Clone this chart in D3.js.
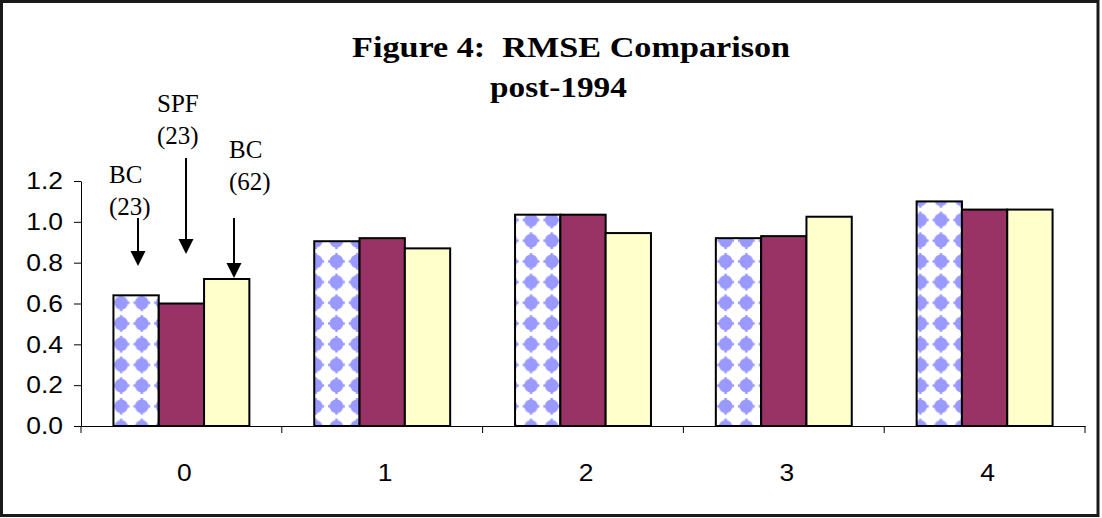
<!DOCTYPE html>
<html>
<head>
<meta charset="utf-8">
<script src="https://cdn.jsdelivr.net/npm/d3@7"></script>
<style>
  body { margin: 0; background: #fff; }
  svg { display: block; }
</style>
</head>
<body>
<div id="chart"></div>
<script>
// horizons (x categories)
var horizons = ["0", "1", "2", "3", "4"];
// series names
var seriesNames = ["BC (23)", "SPF (23)", "BC (62)"];
// RMSE values
var bc23  = [0.64, 0.905, 1.035, 0.92, 1.10];
var spf23 = [0.60, 0.92, 1.035, 0.93, 1.06];
var bc62  = [0.72, 0.87, 0.945, 1.025, 1.06];
var yTicks = [0.0, 0.2, 0.4, 0.6, 0.8, 1.0, 1.2];

var width = 1102, height = 518;
var svg = d3.select("#chart").append("svg")
    .attr("width", width)
    .attr("height", height);

// outer frame
svg.append("rect")
    .attr("x", 1.5).attr("y", 1.5)
    .attr("width", 1096.5).attr("height", 514)
    .attr("fill", "#fff")
    .attr("stroke", "#1a1a1a")
    .attr("stroke-width", 3);

//Define scales
var x0 = d3.scaleBand().domain(horizons).range([81, 1085]);
var x1 = d3.scaleBand().domain(seriesNames).range([0, x0.bandwidth()]).paddingOuter(0.716);
var y = d3.scaleLinear().domain([0, 1.2]).range([426, 181]);

var fills = {"SPF (23)": "#993366", "BC (62)": "#ffffcc"};

var rows = horizons.map(function (h, i) {
    return {h: h, vals: [bc23[i], spf23[i], bc62[i]]};
});

// dotted pattern, one per category so the dots line up with each bar
var defs = svg.append("defs");
var tile = 20.7;
rows.forEach(function (r, i) {
    var left = x0(r.h) + x1(seriesNames[0]);
    var p = defs.append("pattern")
        .attr("id", "dots" + i)
        .attr("patternUnits", "userSpaceOnUse")
        .attr("width", tile).attr("height", tile)
        .attr("x", left + 9.5 - tile / 2)
        .attr("y", y(0) + 1 - tile / 2);
    p.append("rect").attr("width", tile).attr("height", tile).attr("fill", "#fff");
    var c = tile / 2;
    p.append("circle").attr("cx", c).attr("cy", c).attr("r", 6.8).attr("fill", "#9999ff");
    p.append("rect").attr("x", c - 8.4).attr("y", c - 1.2).attr("width", 16.8).attr("height", 2.4).attr("fill", "#9999ff");
    p.append("rect").attr("x", c - 1.2).attr("y", c - 8.4).attr("width", 2.4).attr("height", 16.8).attr("fill", "#9999ff");
});

// bars
var groups = svg.selectAll("g.grp")
    .data(rows)
    .enter()
    .append("g")
    .attr("class", "grp")
    .attr("transform", function (d) { return "translate(" + x0(d.h) + ",0)"; });

groups.selectAll("rect")
    .data(function (d, i) {
        return d.vals.map(function (v, j) { return {s: seriesNames[j], v: v, i: i}; });
    })
    .enter()
    .append("rect")
    .attr("x", function (d) { return x1(d.s); })
    .attr("width", x1.bandwidth())
    .attr("y", function (d) { return y(d.v); })
    .attr("height", function (d) { return y(0) - y(d.v); })
    .attr("fill", function (d) { return d.s === "BC (23)" ? "url(#dots" + d.i + ")" : fills[d.s]; })
    .attr("stroke", "#000")
    .attr("stroke-width", 2);

// y axis
var yAxis = svg.append("g")
    .attr("transform", "translate(81,0)")
    .call(d3.axisLeft(y).tickValues(yTicks).tickSize(7).tickSizeOuter(0).tickPadding(11).tickFormat(d3.format(".1f")));
yAxis.selectAll("text")
    .style("font-family", "'Liberation Sans', Arial, sans-serif")
    .style("font-size", "24px")
    .attr("fill", "#000")
    .attr("x", null)
    .attr("transform", "translate(-18,0) scale(1.1,1)");

// x axis: labels centered, ticks at category boundaries
var xAxis = svg.append("g")
    .attr("transform", "translate(0," + y(0) + ")")
    .call(d3.axisBottom(x0).tickSize(0).tickSizeOuter(0).tickPadding(38));
xAxis.selectAll("text")
    .style("font-family", "'Liberation Sans', Arial, sans-serif")
    .style("font-size", "24px")
    .attr("fill", "#000")
    .attr("transform", "translate(3,0) scale(1.1,1)");
var bounds = horizons.map(function (h) { return x0(h); }).concat([x0.range()[1]]);
xAxis.selectAll("line.bound")
    .data(bounds)
    .enter()
    .append("line")
    .attr("class", "bound")
    .attr("x1", function (d) { return d; })
    .attr("x2", function (d) { return d; })
    .attr("y1", 0).attr("y2", 7)
    .attr("stroke", "#000");
svg.selectAll(".domain").attr("stroke", "#000");

// title
var title = svg.append("g")
    .style("font-family", "'Liberation Serif', 'Times New Roman', serif")
    .style("font-weight", "bold")
    .style("font-size", "30px");
title.append("text")
    .attr("xml:space", "preserve")
    .attr("transform", "translate(352,57) scale(1.14,1)")
    .text("Figure 4:  RMSE Comparison");
title.append("text")
    .attr("transform", "translate(490,97) scale(1.11,1)")
    .text("post-1994");

// series labels with arrows
var notes = [
    {l1: "BC", l2: "(23)", tx: 109, ty: 183, ax: 138, a0: 218, a1: 266},
    {l1: "SPF", l2: "(23)", tx: 157, ty: 112, ax: 186, a0: 158, a1: 254},
    {l1: "BC", l2: "(62)", tx: 229, ty: 158, ax: 234, a0: 218, a1: 278}
];
var ng = svg.append("g")
    .style("font-family", "'Liberation Serif', 'Times New Roman', serif")
    .style("font-size", "25px");
notes.forEach(function (n) {
    ng.append("text").attr("x", n.tx).attr("y", n.ty).text(n.l1);
    ng.append("text").attr("x", n.tx).attr("y", n.ty + 32).text(n.l2);
    ng.append("line")
        .attr("x1", n.ax).attr("x2", n.ax)
        .attr("y1", n.a0).attr("y2", n.a1 - 12)
        .attr("stroke", "#000").attr("stroke-width", 2);
    ng.append("polygon")
        .attr("points", [[n.ax - 7.5, n.a1 - 15], [n.ax + 7.5, n.a1 - 15], [n.ax, n.a1]].join(" "))
        .attr("fill", "#000");
});
</script>
</body>
</html>
